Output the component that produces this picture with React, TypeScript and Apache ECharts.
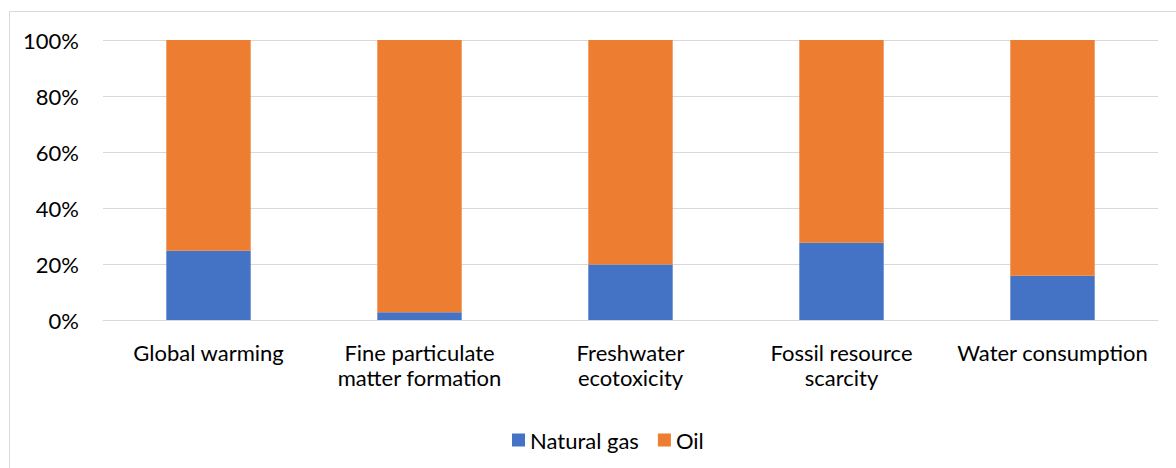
import React, { useEffect, useRef } from "react";
import * as echarts from "echarts";

// Impact categories (x axis)
const categories = [
  "Global warming",
  "Fine particulate\nmatter formation",
  "Freshwater\necotoxicity",
  "Fossil resource\nscarcity",
  "Water consumption",
];

// Share of each impact attributable to each fuel, in percent
const naturalGas = [24.7, 2.8, 19.8, 27.6, 15.8];
const oil = [75.3, 97.2, 80.2, 72.4, 84.2];

const yTicks = [0, 20, 40, 60, 80, 100];

const FONT = "Lato, 'Open Sans', sans-serif";
const FONT_SIZE = 22;

export default function App() {
  const ref = useRef<HTMLDivElement>(null);

  useEffect(() => {
    document.body.style.margin = "0";
    if (!ref.current) return;
    const chart = echarts.init(ref.current, null, { renderer: "svg" });
    chart.setOption({
      animation: false,
      backgroundColor: "#ffffff",
      textStyle: { fontFamily: FONT },
      graphic: [
        {
          type: "rect",
          shape: { x: 9.5, y: 11.5, width: 1200, height: 500 },
          style: { fill: "none", stroke: "#d9d9d9", lineWidth: 1 },
          silent: true,
        },
      ],
      grid: { left: 103, right: 18, top: 40, bottom: 148, containLabel: false },
      legend: {
        bottom: 12,
        left: 507,
        itemWidth: 13,
        itemHeight: 13,
        itemGap: 19,
        icon: "rect",
        textStyle: { fontFamily: FONT, fontSize: FONT_SIZE, color: "#000" },
        data: ["Natural gas", "Oil"],
      },
      xAxis: {
        type: "category",
        data: categories,
        axisLine: { show: true, lineStyle: { color: "#d9d9d9", width: 1 } },
        axisTick: { show: false },
        axisLabel: {
          interval: 0,
          margin: 20,
          fontFamily: FONT,
          fontSize: FONT_SIZE,
          lineHeight: 25,
          color: "#000",
        },
      },
      yAxis: {
        type: "value",
        min: yTicks[0],
        max: yTicks[yTicks.length - 1],
        interval: 20,
        axisLine: { show: false },
        axisTick: { show: false },
        splitLine: { lineStyle: { color: "#d9d9d9", width: 1 } },
        axisLabel: {
          margin: 24,
          fontFamily: FONT,
          fontSize: FONT_SIZE,
          color: "#000",
          formatter: (v: number) => `${v}%`,
        },
      },
      series: [
        {
          name: "Natural gas",
          type: "bar",
          stack: "total",
          barWidth: "40%",
          data: naturalGas,
          itemStyle: { color: "#4472C4" },
        },
        {
          name: "Oil",
          type: "bar",
          stack: "total",
          barWidth: "40%",
          data: oil,
          itemStyle: { color: "#ED7D31" },
        },
      ],
    });
    return () => chart.dispose();
  }, []);

  return <div ref={ref} style={{ width: 1176, height: 468 }} />;
}
